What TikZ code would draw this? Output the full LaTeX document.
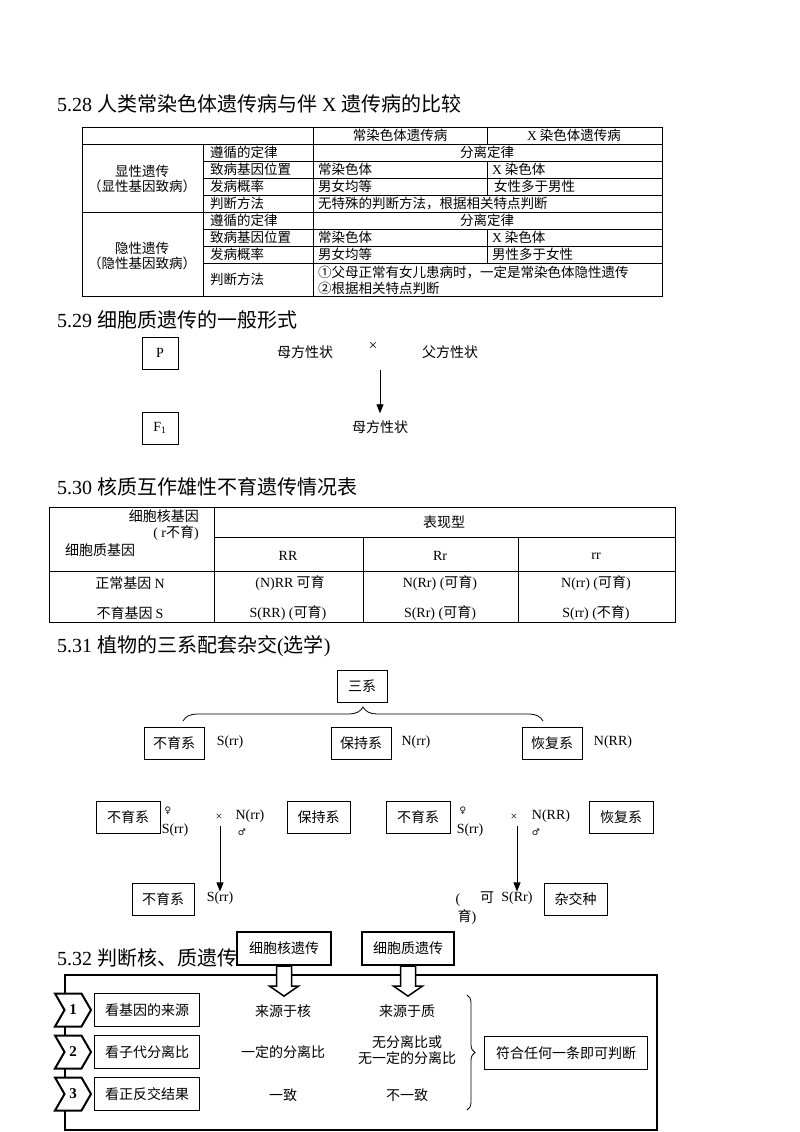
\documentclass[tikz,border=0pt]{standalone}
\usepackage{fontspec}
\setmainfont{Liberation Serif}
\newfontfamily\cjk{Noto Sans CJK SC}
\newfontfamily\sym{DejaVu Sans}
\usetikzlibrary{arrows.meta,decorations.pathreplacing,shapes.symbols}
\newcommand\rom[1]{{\rmfamily #1}}

\begin{document}
\begin{tikzpicture}[x=1pt, y=1pt, >={Triangle[length=9pt,width=7pt]},
% common options for the headings:
head/.style = {anchor=west, inner sep=0, font=\fontsize{20}{24}\selectfont},
% common options for table text:
cell/.style = {inner sep=0, font=\cjk\fontsize{13.5}{15}\selectfont},
% common options for text in the diagrams:
txt/.style = {inner sep=0, font=\cjk\fontsize{14}{16}\selectfont},
lat/.style = {inner sep=0, font=\fontsize{14}{16}\selectfont},
% common options for boxes:
box/.style = {draw, line width=0.8pt, inner sep=0, minimum width=60pt,
            minimum height=32pt, font=\cjk\fontsize{14}{16}\selectfont},
tbox/.style = {box, line width=2.2pt, fill=white, minimum height=33pt},
% common options for the numbered tags:
tag/.style = {signal, signal to=east, signal from=west, signal pointer angle=120,
            draw, line width=2pt, fill=white, minimum width=36pt, minimum height=33pt,
            inner sep=0, font=\bfseries\fontsize{15}{15}\selectfont},
tline/.style = {line width=0.8pt},
hollow/.style = {draw, line width=1.5pt, fill=white}]
\useasboundingbox (0,0) rectangle (800,-1132);

% 5.28
\node[head] (H28) at (57,-104) {5.28 {\cjk 人类常染色体遗传病与伴} X {\cjk 遗传病的比较}};
\draw[tline] (82,-127) rectangle (662,-296);
\draw[tline] (82,-144) -- (662,-144);
\draw[tline] (82,-212) -- (662,-212);
\draw[tline] (203,-161) -- (662,-161);
\draw[tline] (203,-178) -- (662,-178);
\draw[tline] (203,-195) -- (662,-195);
\draw[tline] (203,-229) -- (662,-229);
\draw[tline] (203,-246) -- (662,-246);
\draw[tline] (203,-263) -- (662,-263);
\draw[tline] (203,-144) -- (203,-296);
\draw[tline] (313,-127) -- (313,-296);
\draw[tline] (487,-127) -- (487,-144) (487,-161) -- (487,-195) (487,-229) -- (487,-263);
\node[cell] (A0) at (400,-135.5) {常染色体遗传病};
\node[cell] (B0) at (574,-135.5) {\rom{X} 染色体遗传病};
\node[cell, align=center] (G1) at (142,-178.5) {显性遗传\\（显性基因致病）};
\node[cell, align=center] (G2) at (142,-255.5) {隐性遗传\\（隐性基因致病）};
\node[cell, anchor=west] (A1) at (210,-152.5) {遵循的定律};
\node[cell, anchor=west] (A2) at (210,-169.5) {致病基因位置};
\node[cell, anchor=west] (A3) at (210,-186.5) {发病概率};
\node[cell, anchor=west] (A4) at (210,-203.5) {判断方法};
\node[cell, anchor=west] (A5) at (210,-220.5) {遵循的定律};
\node[cell, anchor=west] (A6) at (210,-237.5) {致病基因位置};
\node[cell, anchor=west] (A7) at (210,-254.5) {发病概率};
\node[cell, anchor=west] (A8) at (210,-279.5) {判断方法};
\node[cell] (B1) at (487,-152.5) {分离定律};
\node[cell, anchor=west] (B2) at (318,-169.5) {常染色体};
\node[cell, anchor=west] (C2) at (492,-169.5) {\rom{X} 染色体};
\node[cell, anchor=west] (B3) at (318,-186.5) {男女均等};
\node[cell, anchor=west] (C3) at (494,-186.5) {女性多于男性};
\node[cell, anchor=west] (B4) at (318,-203.5) {无特殊的判断方法，根据相关特点判断};
\node[cell] (B5) at (487,-220.5) {分离定律};
\node[cell, anchor=west] (B6) at (318,-237.5) {常染色体};
\node[cell, anchor=west] (C6) at (492,-237.5) {\rom{X} 染色体};
\node[cell, anchor=west] (B7) at (318,-254.5) {男女均等};
\node[cell, anchor=west] (C7) at (492,-254.5) {男性多于女性};
\node[cell, anchor=west, align=left, font=\cjk\fontsize{13.5}{16}\selectfont] (B8) at (318,-280)
    {①父母正常有女儿患病时，一定是常染色体隐性遗传\\②根据相关特点判断};

% 5.29
\node[head] (H29) at (57,-320) {5.29 {\cjk 细胞质遗传的一般形式}};
\node[box, minimum width=36pt, font=\fontsize{14}{16}\selectfont] (P0) at (160,-353) {P};
\node[box, minimum width=36pt, font=\fontsize{14}{16}\selectfont] (F0) at (160,-428) {F\textsubscript{1}};
\node[txt] (M0) at (305,-352) {母方性状};
\node[lat, font=\fontsize{15}{15}\selectfont] (X0) at (373,-346) {×};
\node[txt] (D0) at (450,-352) {父方性状};
\node[txt] (M1) at (380,-427) {母方性状};
\coordinate (a0) at (380,-370);
\draw[->, tline] (a0) -- ([yshift=7pt]M1.north);

% 5.30
\node[head] (H30) at (57,-487) {5.30 {\cjk 核质互作雄性不育遗传情况表}};
\draw[tline] (49,-507) rectangle (675,-622);
\draw[tline] (214,-537) -- (675,-537);
\draw[tline] (49,-571) -- (675,-571);
\draw[tline] (214,-507) -- (214,-622);
\draw[tline] (363,-537) -- (363,-622);
\draw[tline] (518,-537) -- (518,-622);
\node[txt, anchor=east, align=right] (N0) at (199,-525) {细胞核基因\\\rom{( r}不育\rom{)}};
\node[txt] (N1) at (100,-550) {细胞质基因};
\node[txt] (E0) at (444,-522) {表现型};
\node[lat] (E1) at (288,-556) {RR};
\node[lat] (E2) at (440,-556) {Rr};
\node[lat] (E3) at (596,-556) {rr};
\node[txt] (R1) at (130,-583) {正常基因 \rom{N}};
\node[txt] (R2) at (130,-613) {不育基因 \rom{S}};
\node[txt] (R3) at (290,-583) {\rom{(N)RR} 可育};
\node[txt] (R4) at (288,-613) {\rom{S(RR) (}可育\rom{)}};
\node[txt] (R5) at (440,-583) {\rom{N(Rr) (}可育\rom{)}};
\node[txt] (R6) at (440,-613) {\rom{S(Rr) (}可育\rom{)}};
\node[txt] (R7) at (596,-583) {\rom{N(rr) (}可育\rom{)}};
\node[txt] (R8) at (596,-613) {\rom{S(rr) (}不育\rom{)}};

% 5.31
\node[head] (H31) at (57,-646) {5.31 {\cjk 植物的三系配套杂交}({\cjk 选学})};
\node[box, minimum width=50pt] (S0) at (362,-686) {三系};
\draw[tline, decorate, decoration={brace, amplitude=14pt}] (183,-721) -- (543,-721);
\node[box] (S1) at (174,-743.5) {不育系};
\node[lat] (L1) at (230,-742) {S(rr)};
\node[box] (S2) at (361,-743.5) {保持系};
\node[lat] (L2) at (416,-742) {N(rr)};
\node[box] (S3) at (552,-743.5) {恢复系};
\node[lat] (L3) at (613,-742) {N(RR)};
\node[box, minimum width=64pt] (U1) at (128,-817) {不育系};
\node[lat, font=\sym\fontsize{9}{9}\selectfont] (V1) at (168,-811) {♀};
\node[lat] (W1) at (175,-830) {S(rr)};
\node[lat, font=\fontsize{12}{12}\selectfont] (X1) at (219,-817) {×};
\node[lat] (Y1) at (250,-816) {N(rr)};
\node[lat, font=\sym\fontsize{9}{9}\selectfont] (Z1) at (242,-832) {♂};
\node[box, minimum width=63pt] (U2) at (318.5,-817) {保持系};
\node[box, minimum width=64pt] (U3) at (418,-817) {不育系};
\node[lat, font=\sym\fontsize{9}{9}\selectfont] (V2) at (463,-811) {♀};
\node[lat] (W2) at (470,-830) {S(rr)};
\node[lat, font=\fontsize{12}{12}\selectfont] (X2) at (514,-817) {×};
\node[lat] (Y2) at (551,-816) {N(RR)};
\node[lat, font=\sym\fontsize{9}{9}\selectfont] (Z2) at (536,-832) {♂};
\node[box, minimum width=64pt] (U4) at (621,-817) {恢复系};
\node[box, minimum width=62pt] (O1) at (163,-899) {不育系};
\node[lat] (K3) at (220,-898) {S(rr)};
\node[lat] (K4) at (458,-900) {(};
\node[txt] (K5) at (487,-898) {可};
\node[lat] (K6) at (517,-898) {S(Rr)};
\node[txt] (K7) at (467,-917) {育\rom{)}};
\node[box, minimum width=63pt] (O2) at (575.5,-899) {杂交种};
\draw[->, tline] (K3.north |- X1.south) ++(0,-6) -- (K3.north);
\draw[->, tline] (K6.north |- X2.south) ++(0,-6) -- (K6.north);

% 5.32
\node[head] (H32) at (57,-958) {5.32 {\cjk 判断核、质遗传}};
\draw[line width=2.5pt] (65,-975) rectangle (657,-1130);
\node[tbox, minimum width=94pt] (K1) at (284,-948.5) {细胞核遗传};
\node[tbox, minimum width=92pt] (K2) at (408,-948.5) {细胞质遗传};
\draw[hollow] ([xshift=-7.5pt]K1.south) -- ++(0,-20) -- ++(-7,0) -- ++(14.5,-10) -- ++(14.5,10) -- ++(-7,0) -- ++(0,20) -- cycle;
\draw[hollow] ([xshift=-7.5pt]K2.south) -- ++(0,-20) -- ++(-7,0) -- ++(14.5,-10) -- ++(14.5,10) -- ++(-7,0) -- ++(0,20) -- cycle;
\node[tag] (C1) at (73,-1010) {1};
\node[tag] (C2) at (73,-1052) {2};
\node[tag] (C3) at (73,-1094) {3};
\node[box, minimum width=105pt, minimum height=33pt] (Q1) at (147,-1010) {看基因的来源};
\node[box, minimum width=105pt, minimum height=33pt] (Q2) at (147,-1052) {看子代分离比};
\node[box, minimum width=105pt, minimum height=33pt] (Q3) at (147,-1094) {看正反交结果};
\node[txt] (J1) at (283,-1011) {来源于核};
\node[txt] (J2) at (407,-1011) {来源于质};
\node[txt] (J3) at (283,-1052) {一定的分离比};
\node[txt, align=center] (J4) at (407,-1050) {无分离比或\\无一定的分离比};
\node[txt] (J5) at (283,-1095) {一致};
\node[txt] (J6) at (407,-1095) {不一致};
\draw[tline, decorate, decoration={brace, amplitude=8pt}] (467,-995) -- (467,-1110);
\node[box, minimum width=163pt, minimum height=33pt] (R0) at (566,-1053) {符合任何一条即可判断};
\end{tikzpicture}
\end{document}
